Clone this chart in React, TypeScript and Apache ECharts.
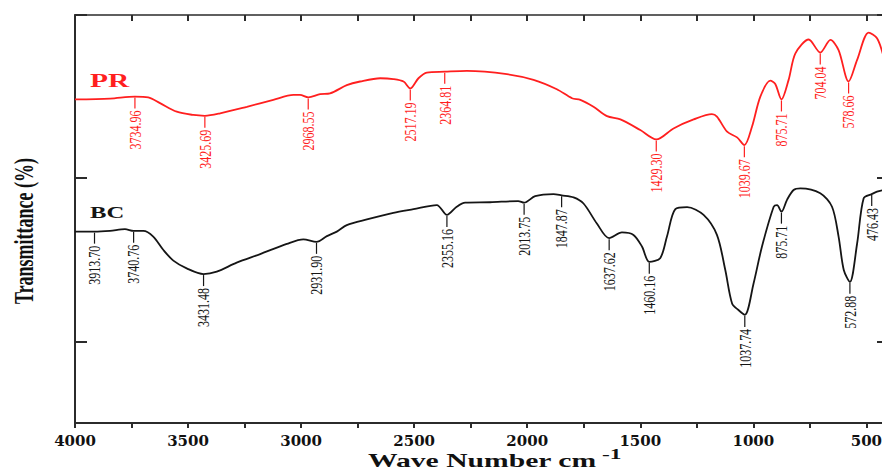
import { useEffect, useRef } from "react";
import * as echarts from "echarts";

// ---- data (wavenumber cm-1, transmittance %) ----
const prBase: number[][] = [
  [4000, 79.3], [3845, 79.5], [3676, 79.8], [3624, 78.4], [3550, 76.3], [3477, 75.5],
  [3358, 75.9], [3240, 77.5], [3123, 79.2], [3034, 80.4], [3005, 80.4], [2916, 80.6],
  [2872, 80.8], [2798, 82.8], [2739, 83.7], [2650, 84.5], [2592, 84.3], [2547, 83.7],
  [2481, 84.5], [2444, 85.9], [2267, 86.3], [2090, 85.5], [1972, 84.1], [1869, 81.8],
  [1802, 79.6], [1765, 79.2], [1707, 77.5], [1647, 75.2], [1588, 74.4], [1500, 71.8],
  [1353, 72.2], [1264, 74.4], [1183, 75.7], [1161, 75.1], [1116, 71.4], [1072, 70.0],
  [1006, 72.6], [969, 80.0], [925, 83.9], [903, 83.1], [844, 84.1], [814, 90.6],
  [755, 94.0], [659, 93.9], [623, 91.4], [541, 89.0], [490, 95.7], [453, 94.3], [425, 90.0],
];
const prPeaks = [3734.96, 3425.69, 2968.55, 2517.19, 2364.81, 1429.3, 1039.67, 875.71, 704.04, 578.66];
const prPeakT = [80.0, 75.3, 79.8, 82.0, 86.1, 69.5, 68.1, 79.3, 90.8, 83.7];

const bcBase: number[][] = [
  [4000, 46.9], [3845, 47.1], [3779, 47.5], [3698, 47.1], [3654, 45.7], [3609, 42.4],
  [3565, 39.8], [3506, 37.9], [3373, 37.1], [3285, 39.3], [3181, 41.4], [3063, 43.9],
  [2990, 45.0], [2886, 45.8], [2842, 46.9], [2798, 48.5], [2709, 49.9], [2592, 51.5],
  [2503, 52.4], [2400, 53.4], [2312, 53.0], [2274, 54.0], [2164, 54.1], [2040, 54.4],
  [1965, 55.6], [1884, 56.1], [1795, 55.3], [1751, 53.8], [1692, 48.9], [1581, 46.7],
  [1530, 46.1], [1492, 43.2], [1412, 40.4], [1382, 45.7], [1345, 52.4], [1293, 52.9],
  [1220, 51.0], [1161, 46.1], [1124, 37.5], [1094, 29.3], [1066, 27.7], [999, 34.2],
  [962, 43.2], [910, 53.0], [895, 53.4], [851, 54.7], [822, 57.1], [792, 57.5],
  [704, 56.3], [652, 53.0], [623, 45.7], [600, 37.5], [541, 44.0], [512, 55.1],
  [453, 56.7], [425, 57.1],
];
const bcPeaks = [3913.7, 3740.76, 3431.48, 2931.9, 2355.16, 2013.75, 1847.87, 1637.62, 1460.16, 1037.74, 875.71, 572.88, 476.43];
const bcPeakT = [46.9, 47.1, 36.5, 44.4, 51.0, 54.0, 55.8, 45.3, 39.5, 26.5, 51.8, 34.6, 56.1];

const xLabelValues = [4000, 3500, 3000, 2500, 2000, 1500, 1000, 500];
const xTickValues = [4000, 3750, 3500, 3250, 3000, 2750, 2500, 2250, 2000, 1750, 1500, 1250, 1000, 750, 500];
const yTickValues = [20, 60, 100];

const seriesNames = ["PR", "BC"];

const SERIF = '"Liberation Serif", "Times New Roman", serif';
const RED = "#ff1f1f";
const BLACK = "#151515";
const AXIS = "#2b2b2b";

function peakData(peaks: number[], ts: number[]) {
  return peaks.map((w, i) => [w, ts[i]]);
}
function curve(base: number[][], peaks: number[], ts: number[]) {
  return [...base, ...peakData(peaks, ts)].sort((a, b) => b[0] - a[0]);
}

function peakSeries(name: string, peaks: number[], ts: number[], color: string) {
  return {
    type: "custom",
    name: name + " peaks",
    silent: true,
    z: 5,
    data: peakData(peaks, ts),
    encode: { x: 0, y: 1 },
    renderItem: (_params: any, api: any) => {
      const w = api.value(0);
      const t = api.value(1);
      const p = api.coord([w, t]);
      return {
        type: "group",
        children: [
          {
            type: "line",
            shape: { x1: p[0], y1: p[1] + 1, x2: p[0], y2: p[1] + 12 },
            style: { stroke: color, lineWidth: 1.2 },
          },
          {
            type: "text",
            x: p[0],
            y: p[1] + 14,
            rotation: Math.PI / 2,
            scaleY: 1.45,
            style: {
              text: w.toFixed(2),
              align: "right",
              verticalAlign: "middle",
              font: "12px " + SERIF,
              fill: color,
            },
          },
        ],
      };
    },
  };
}

export default function App() {
  const ref = useRef<HTMLDivElement>(null);
  useEffect(() => {
    if (!ref.current) return;
    const chart = echarts.init(ref.current, undefined, { renderer: "svg" });
    const xCommon = {
      type: "value",
      min: 400,
      max: 4000,
      inverse: true,
      splitLine: { show: false },
    };
    const yCommon = {
      type: "value",
      min: 0,
      max: 100,
      splitLine: { show: false },
      axisLabel: { show: false },
      axisLine: { show: true, lineStyle: { color: AXIS, width: 2 } },
      axisTick: { show: true, inside: true, length: 12, customValues: yTickValues, lineStyle: { color: AXIS, width: 2 } },
    };
    chart.setOption({
      animation: false,
      backgroundColor: "#ffffff",
      grid: { left: 75, right: -7, top: 15, bottom: 49, containLabel: false, outerBoundsMode: "none" },
      xAxis: [
        {
          ...xCommon,
          position: "bottom",
          axisLine: { show: true, onZero: false, lineStyle: { color: AXIS, width: 2 } },
          axisTick: { show: true, inside: false, length: 5, customValues: xTickValues, lineStyle: { color: AXIS, width: 2 } },
          axisLabel: {
            customValues: xLabelValues,
            formatter: (v: number) => String(v),
            margin: 10,
            fontFamily: "DejaVu Serif",
            fontWeight: "bold",
            fontSize: 15,
            color: "#111",
          },
        },
        {
          ...xCommon,
          position: "top",
          axisLine: { show: true, onZero: false, lineStyle: { color: AXIS, width: 1.5 } },
          axisTick: { show: true, inside: true, length: 6, customValues: xTickValues, lineStyle: { color: AXIS, width: 2 } },
          axisLabel: { show: false },
        },
      ],
      yAxis: [
        { ...yCommon, position: "left" },
        { ...yCommon, position: "right" },
      ],
      series: [
        {
          type: "line",
          name: seriesNames[0],
          data: curve(prBase, prPeaks, prPeakT),
          showSymbol: false,
          smooth: 0.3,
          lineStyle: { color: RED, width: 1.8 },
          itemStyle: { color: RED },
          z: 3,
        },
        {
          type: "line",
          name: seriesNames[1],
          data: curve(bcBase, bcPeaks, bcPeakT),
          showSymbol: false,
          smooth: 0.3,
          lineStyle: { color: BLACK, width: 1.8 },
          itemStyle: { color: BLACK },
          z: 3,
        },
        peakSeries(seriesNames[0], prPeaks, prPeakT, RED),
        peakSeries(seriesNames[1], bcPeaks, bcPeakT, BLACK),
      ],
      graphic: [
        {
          type: "text",
          x: 90,
          y: 80,
          scaleX: 1.55,
          style: { text: seriesNames[0], font: "bold 19px " + SERIF, fill: RED, align: "left", verticalAlign: "middle", textAlign: "left", textVerticalAlign: "middle" },
        },
        {
          type: "text",
          x: 90,
          y: 212,
          scaleX: 1.45,
          style: { text: seriesNames[1], font: "bold 17px " + SERIF, fill: BLACK, align: "left", verticalAlign: "middle", textAlign: "left", textVerticalAlign: "middle" },
        },
        {
          type: "text",
          x: 24,
          y: 231,
          rotation: Math.PI / 2,
          scaleY: 1.5,
          style: { text: "Transmittance (%)", font: "bold 18px " + SERIF, fill: "#111", align: "center", verticalAlign: "middle", textAlign: "center", textVerticalAlign: "middle" },
        },
        {
          type: "group",
          x: 368,
          y: 461,
          scaleX: 1.56,
          children: [
            {
              type: "text",
              x: 0,
              y: 0,
              style: { text: "Wave Number cm", font: "bold 19px " + SERIF, fill: "#111", align: "left", verticalAlign: "middle", textAlign: "left", textVerticalAlign: "middle" },
            },
            {
              type: "text",
              x: 150,
              y: -7,
              style: { text: "-1", font: "bold 15px " + SERIF, fill: "#111", align: "left", verticalAlign: "middle", textAlign: "left", textVerticalAlign: "middle" },
            },
          ],
        },
      ],
    });
    return () => chart.dispose();
  }, []);
  return (
    <div
      ref={ref}
      style={{ position: "fixed", left: 0, top: 0, width: 882, height: 472, background: "#fff" }}
    />
  );
}
